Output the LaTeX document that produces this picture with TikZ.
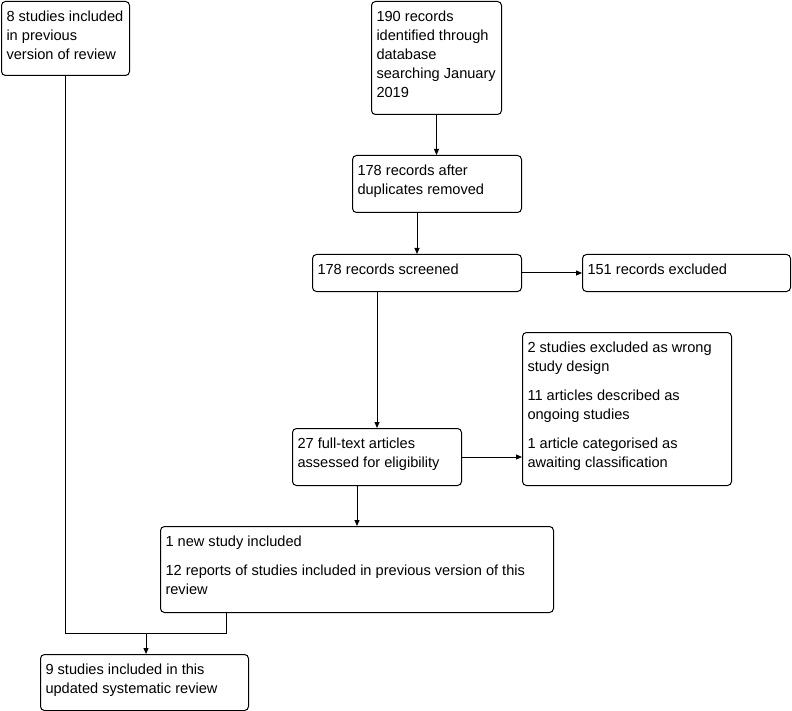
\documentclass[tikz,border=0pt]{standalone}
\usepackage{fontspec}
\setmainfont{Liberation Sans}
\usetikzlibrary{arrows.meta}
\newcommand\bt[3]{\parbox[c][#2pt][t]{#1pt}{\raggedright\rule{0pt}{15pt}#3}}
\begin{document}
\begin{tikzpicture}[x=1pt,y=-1pt,
  box/.style={draw, rounded corners=4pt, line width=1pt, anchor=north west,
    inner xsep=5pt, inner ysep=5pt, font=\fontsize{14.6}{19}\selectfont},
  arr/.style={-{Triangle[length=6pt,width=5pt]}, line width=1pt},
  conn/.style={line width=1pt}]
\useasboundingbox (0,0) rectangle (792,711);
\node[box] (A) at (1,1) {\bt{118}{64}{8 studies included\\in previous\\version of review}};
\node[box] (B) at (371,1) {\bt{120}{103}{190 records\\identified through\\database\\searching January\\2019}};
\node[box] (C) at (352,155) {\bt{159}{47}{178 records after\\duplicates removed}};
\node[box] (D) at (312,254) {\bt{199}{27}{178 records screened}};
\node[box] (E) at (582,254) {\bt{198}{27}{151 records excluded}};
\node[box] (F) at (522,332) {\bt{199}{143}{2 studies excluded as wrong\\study design\\[10pt]11 articles described as\\ongoing studies\\[10pt]1 article categorised as\\awaiting classification}};
\node[box] (G) at (292,428) {\bt{159}{47}{27 full-text articles\\assessed for eligibility}};
\node[box] (H) at (160,526) {\bt{383}{76}{1 new study included\\[10pt]12 reports of studies included in previous version of this\\review}};
\node[box] (I) at (40,654) {\bt{198}{46}{9 studies included in this\\updated systematic review}};
\draw[arr] (B.south) -- (B.south |- C.north);
\draw[arr] (C.south -| D.north) -- (D.north);
\draw[arr] (D.east) -- (E.west);
\draw[arr] (D.south -| G.north) -- (G.north);
\draw[arr] (G.east) -- (G.east -| F.west);
\draw[arr] (G.south -| H.north) -- (H.north);
\coordinate (hj) at ([xshift=66pt]H.south west);
\coordinate (m) at (226,633);
\coordinate (j) at (146,633);
\draw[conn] (A.south) |- (m) -- (hj);
\draw[arr] (j) -- (j |- I.north);
\end{tikzpicture}
\end{document}
